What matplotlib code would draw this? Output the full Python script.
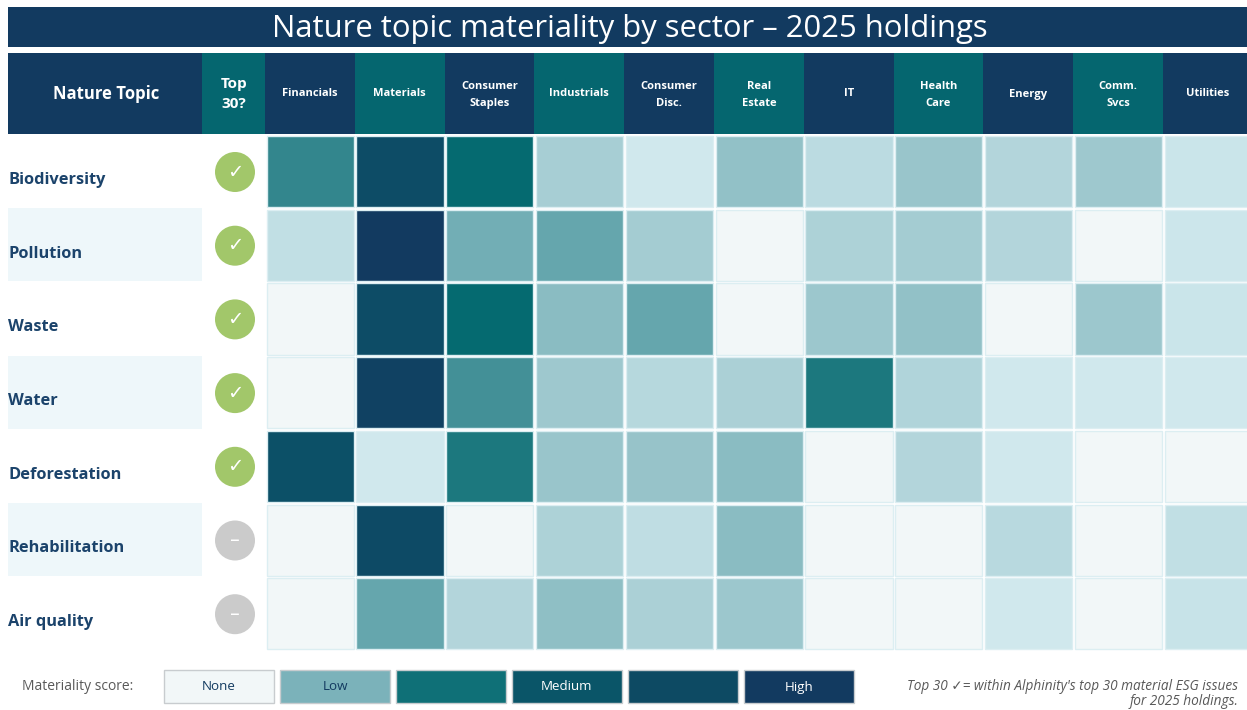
import matplotlib
matplotlib.use("Agg")
import matplotlib.pyplot as plt
from matplotlib.colors import LinearSegmentedColormap
from matplotlib.patches import Rectangle, Circle

plt.rcParams["font.family"] = ["Open Sans", "DejaVu Sans"]

topics = ["Biodiversity", "Pollution", "Waste", "Water", "Deforestation", "Rehabilitation", "Air quality"]
sectors = ["Financials", "Materials", "Consumer\nStaples", "Industrials", "Consumer\nDisc.", "Real\nEstate",
           "IT", "Health\nCare", "Energy", "Comm.\nSvcs", "Utilities"]
top30 = [True, True, True, True, True, False, False]

biodiversity = [6.0, 8.7, 7.0, 2.4, 1.0, 3.2, 1.7, 2.9, 2.0, 2.7, 1.2]
pollution = [1.5, 10, 4.5, 5.0, 2.5, 0, 2.2, 2.5, 2.0, 0, 1.1]
waste = [0, 8.7, 7.0, 3.5, 5.0, 0, 2.8, 3.2, 0, 2.8, 1.2]
water = [0, 9.5, 5.7, 2.7, 1.9, 2.3, 6.5, 2.1, 1.0, 1.0, 1.0]
deforestation = [8.4, 1.0, 6.5, 2.9, 3.0, 3.5, 0, 2.0, 1.0, 0, 0]
rehabilitation = [0, 8.8, 0, 2.2, 1.6, 3.5, 0, 0, 1.8, 0, 1.5]
air_quality = [0, 5.0, 2.0, 3.3, 2.3, 2.8, 0, 0, 1.0, 0, 1.3]
scores = [biodiversity, pollution, waste, water, deforestation, rehabilitation, air_quality]

legend_labels = ["None", "Low", "", "Medium", "", "High"]
legend_colors = ["#F2F7F8", "#7BB2BA", "#0F7077", "#0A5568", "#0D4A63", "#123A60"]

navy = "#123A60"
teal = "#05666F"

cmap = LinearSegmentedColormap.from_list("materiality", [
    (0.0, "#F2F7F8"), (0.1, "#CFE8ED"), (0.3, "#96C3C9"), (0.5, "#66A7AE"),
    (0.6, "#33868D"), (0.7, "#056A70"), (0.85, "#0C4F67"), (1.0, "#123A60")])

fig = plt.figure(figsize=(12.47, 7.1), dpi=100)
ax = fig.add_axes([0, 0, 1, 1])
ax.set_xlim(0, 1247)
ax.set_ylim(710, 0)
ax.axis("off")

# title band
ax.add_patch(Rectangle((8, 7), 1239, 40, color=navy, lw=0))
ax.text(630, 29, "Nature topic materiality by sector \u2013 2025 holdings", color="white",
        fontsize=22.3, ha="center", va="center")

# header row
x0 = 265
col_w = 89.8
y0 = 135
row_h = 73.7
ax.add_patch(Rectangle((8, 53), 194, 81, color=navy, lw=0))
ax.add_patch(Rectangle((202, 53), 63, 81, color=teal, lw=0))
ax.text(106, 94, "Nature Topic", color="white", fontsize=12, fontweight="bold", ha="center", va="center")
ax.text(234, 94, "Top\n30?", color="white", fontsize=11, fontweight="bold", ha="center", va="center",
        linespacing=1.5)
for i, s in enumerate(sectors):
    ax.add_patch(Rectangle((x0 + i * col_w, 53), col_w, 81, color=navy if i % 2 == 0 else teal, lw=0))
    ax.text(x0 + (i + 0.5) * col_w, 95 if "\n" in s else 94, s, color="white", fontsize=8, fontweight="bold",
            ha="center", va="center", linespacing=1.65)

# rows
for j, t in enumerate(topics):
    y = y0 + j * row_h
    if j % 2 == 1:
        ax.add_patch(Rectangle((8, y - 0.5), 194, row_h - 0.5, color="#EEF7FA", lw=0))
    ax.text(8, y + 45, t, color="#1B436B", fontsize=11.8, fontweight="bold", ha="left", va="center")
    c = "#A2C76A" if top30[j] else "#CBCBCB"
    ax.add_patch(Circle((235, y + 37), 20, color=c, lw=0))
    if top30[j]:
        ax.text(235, y + 37, "\u2713", color="white", fontsize=14, fontweight="bold", ha="center", va="center",
                family=["DejaVu Sans"])
    else:
        ax.text(235, y + 37, "\u2013", color="white", fontsize=14, ha="center", va="center",
                family=["DejaVu Sans"])
    for i, v in enumerate(scores[j]):
        ax.add_patch(Rectangle((x0 + i * col_w + 1.5, y + 1), col_w - 2.5, row_h - 2.5,
                               facecolor=cmap(v / 10), edgecolor="#DCEEF2", lw=1))

# legend
ax.text(22, 687, "Materiality score:", color="#595959", fontsize=10, ha="left", va="center")
for i, (lab, col) in enumerate(zip(legend_labels, legend_colors)):
    lx = 164 + i * 116
    ax.add_patch(Rectangle((lx, 670), 110, 33, facecolor=col, edgecolor="#C8CCCF", lw=1))
    tc = navy if i < 2 else "white"
    ax.text(lx + 55, 687, lab, color=tc, fontsize=9.6, ha="center", va="center")

ax.text(1238, 686, "Top 30 \u2713= within Alphinity's top 30 material ESG issues", color="#595959",
        fontsize=9.8, style="italic", ha="right", va="center")
ax.text(1238, 701.5, "for 2025 holdings.", color="#595959", fontsize=9.8, style="italic", ha="right", va="center")

fig.savefig("out.png", dpi=100)
